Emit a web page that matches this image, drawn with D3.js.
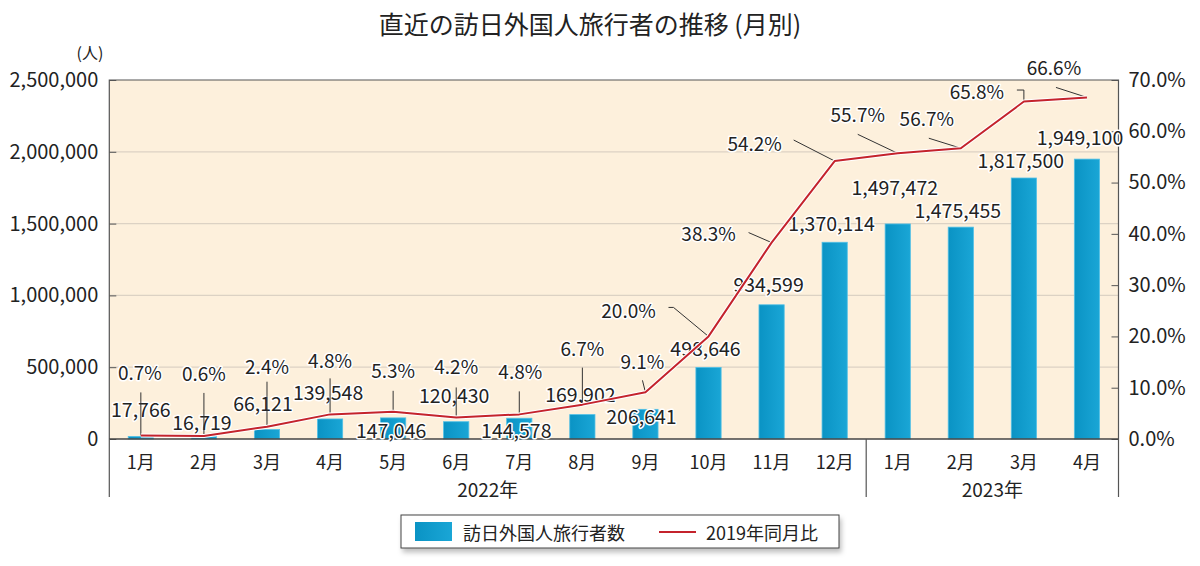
<!DOCTYPE html>
<html>
<head>
<meta charset="utf-8">
<script src="https://cdn.jsdelivr.net/npm/d3@7"></script>
<style>
  body { margin: 0; background: #fff; }
  text { font-family: "Noto Sans CJK JP", "Noto Sans", sans-serif; fill: #222; }
</style>
</head>
<body>
<script>
// data
const months = ['1月', '2月', '3月', '4月', '5月', '6月', '7月', '8月', '9月', '10月', '11月', '12月', '1月', '2月', '3月', '4月'];
const years = [
  { label: '2022年', from: 0, to: 11 },
  { label: '2023年', from: 12, to: 15 },
];
const visitors = [17766, 16719, 66121, 139548, 147046, 120430, 144578, 169902, 206641,
  498646, 934599, 1370114, 1497472, 1475455, 1817500, 1949100];
const ratio2019 = [0.7, 0.6, 2.4, 4.8, 5.3, 4.2, 4.8, 6.7, 9.1, 20.0, 38.3, 54.2, 55.7, 56.7, 65.8, 66.6];
const leftTicks = [0, 500000, 1000000, 1500000, 2000000, 2500000];
const rightTicks = [0, 10, 20, 30, 40, 50, 60, 70];

// label placement (px offsets from bar top / line point)
const valueDx = [0, -2, -4, -2, -2, -2, -3, -2, -4, -3, -3, -3, -3, -3, -3, -7];
const valueDy = [-28, -15, -27, -27, 12, -27, 11, -21, 6, -20, -21, -20, -37, -18, -19, -23];
const pctDx = [-1, 0, 0, 0, 0, 0, 1, 0, -3, -80, -63, -80, -40, -34, -47, -33];
const pctDy = [-64, -63, -61, -55, -42, -52, -44, -57, -32, -27, -10, -19, -40, -31, -11, -31];
const pctLeader = [
  [[0, -43]], [[0, -43]], [[0, -45]], [[0, -36]], [[0, -21]], [[0, -30]], [[0, -23]], [[0, -37]],
  [[-3, -12]], [[-40, -29], [-35, -29]], [[-23, -10]], [[-41, -21]], [[-40, -19]], [[-32, -10]],
  [[-7, -11.5], [0, -11.5]], [[-31, -10]],
];

const width = 1200, height = 566;
const margin = { top: 80, right: 81.5, bottom: 127, left: 109.3 };
const innerW = width - margin.left - margin.right;
const innerH = height - margin.top - margin.bottom;

const svg = d3.select('body')
  .append('svg')
  .attr('width', width)
  .attr('height', height);

const defs = svg.append('defs');
const grad = defs.append('linearGradient').attr('id', 'barGrad');
grad.append('stop').attr('offset', '0%').attr('stop-color', '#0a93c4');
grad.append('stop').attr('offset', '100%').attr('stop-color', '#1aa6d6');
defs.append('filter').attr('id', 'shadow')
  .attr('x', '-5%').attr('y', '-20%').attr('width', '110%').attr('height', '160%')
  .append('feDropShadow')
  .attr('dx', 2).attr('dy', 4).attr('stdDeviation', 2.5)
  .attr('flood-color', '#000').attr('flood-opacity', 0.25);

svg.append('text')
  .attr('x', 590)
  .attr('y', 23)
  .attr('text-anchor', 'middle')
  .attr('dominant-baseline', 'central')
  .style('font-size', '25px')
  .text('直近の訪日外国人旅行者の推移 (月別)');

const g = svg.append('g')
  .attr('transform', `translate(${margin.left}, ${margin.top})`);

const x = d3.scaleBand()
  .domain(d3.range(months.length))
  .range([0, innerW])
  .paddingInner(0.6)
  .paddingOuter(0.3);
const cx = i => x(i) + x.bandwidth() / 2;

const yL = d3.scaleLinear().domain([0, 2500000]).range([innerH, 0]);
const yR = d3.scaleLinear().domain([0, 70]).range([innerH, 0]);

g.append('rect')
  .attr('width', innerW)
  .attr('height', innerH)
  .attr('fill', '#fdf0dc');

// grid
g.append('g')
  .selectAll('line')
  .data(leftTicks.slice(1, -1))
  .join('line')
  .attr('x1', 0)
  .attr('x2', innerW)
  .attr('y1', d => yL(d))
  .attr('y2', d => yL(d))
  .attr('stroke', '#dcd2c4')
  .attr('stroke-width', 1.2);

// axes
const leftAxis = g.append('g')
  .call(d3.axisLeft(yL).tickValues(leftTicks).tickFormat(d3.format(',')).tickSize(-7).tickPadding(11));
const rightAxis = g.append('g')
  .attr('transform', `translate(${innerW}, 0)`)
  .call(d3.axisRight(yR).tickValues(rightTicks).tickFormat(d => d.toFixed(1) + '%').tickSize(-7).tickPadding(10));
[leftAxis, rightAxis].forEach(a => {
  a.select('.domain').remove();
  a.selectAll('.tick line').attr('stroke', '#555');
  a.selectAll('.tick text')
    .attr('fill', '#222')
    .style('font-size', '20px')
    .style('font-family', '"Noto Sans CJK JP", "Noto Sans", sans-serif');
});

svg.append('text')
  .attr('x', 90)
  .attr('y', 52)
  .attr('text-anchor', 'middle')
  .attr('dominant-baseline', 'central')
  .style('font-size', '16px')
  .text('(人)');

// bars
g.append('g')
  .selectAll('rect')
  .data(visitors)
  .join('rect')
  .attr('x', (d, i) => x(i))
  .attr('y', d => yL(d))
  .attr('width', x.bandwidth())
  .attr('height', d => innerH - yL(d))
  .attr('fill', 'url(#barGrad)')
  .attr('stroke', '#52c0e6')
  .attr('stroke-width', 0.8);

// frame
g.append('path')
  .attr('d', `M0,${innerH}V0H${innerW}V${innerH}`)
  .attr('fill', 'none')
  .attr('stroke', '#555')
  .attr('stroke-width', 1.2);
g.append('line')
  .attr('x1', 0).attr('x2', innerW)
  .attr('y1', innerH).attr('y2', innerH)
  .attr('stroke', '#444')
  .attr('stroke-width', 1.5);

// month and year labels below the axis
g.append('g')
  .selectAll('text')
  .data(months)
  .join('text')
  .attr('x', (d, i) => cx(i))
  .attr('y', innerH + 22)
  .attr('text-anchor', 'middle')
  .attr('dominant-baseline', 'central')
  .style('font-size', '18px')
  .text(d => d);

const sepX = [0, x.step() * years[1].from, innerW];
g.append('g')
  .selectAll('line')
  .data(sepX)
  .join('line')
  .attr('x1', d => d).attr('x2', d => d)
  .attr('y1', innerH).attr('y2', innerH + 58)
  .attr('stroke', '#555')
  .attr('stroke-width', 1.2);

g.append('g')
  .selectAll('text')
  .data(years)
  .join('text')
  .attr('x', d => (cx(d.from) + cx(d.to)) / 2)
  .attr('y', innerH + 49)
  .attr('text-anchor', 'middle')
  .attr('dominant-baseline', 'central')
  .style('font-size', '19px')
  .text(d => d.label);

// value labels
g.append('g')
  .selectAll('text')
  .data(visitors)
  .join('text')
  .attr('x', (d, i) => cx(i) + valueDx[i])
  .attr('y', (d, i) => yL(d) + valueDy[i])
  .attr('text-anchor', 'middle')
  .attr('dominant-baseline', 'central')
  .attr('stroke', '#fff')
  .attr('stroke-width', 3)
  .attr('stroke-linejoin', 'round')
  .attr('paint-order', 'stroke')
  .style('font-size', '19.5px')
  .text(d => d3.format(',')(d));

// leader lines for the percentages
g.append('g')
  .selectAll('path')
  .data(ratio2019)
  .join('path')
  .attr('d', (d, i) => {
    const px = cx(i), py = yR(d);
    const pts = pctLeader[i].map(([dx, dy]) => [px + dx, py + dy]);
    pts.push([px, py]);
    return d3.line()(pts);
  })
  .attr('fill', 'none')
  .attr('stroke', '#333')
  .attr('stroke-width', 1);

// ratio line
const line = d3.line()
  .x((d, i) => cx(i))
  .y(d => yR(d));

g.append('path')
  .datum(ratio2019)
  .attr('fill', 'none')
  .attr('stroke', '#fff')
  .attr('stroke-width', 4)
  .attr('stroke-linejoin', 'round')
  .attr('d', line);
g.append('path')
  .datum(ratio2019)
  .attr('fill', 'none')
  .attr('stroke', '#c4232c')
  .attr('stroke-width', 2)
  .attr('stroke-linejoin', 'round')
  .attr('d', line);

// percentage labels
g.append('g')
  .selectAll('text')
  .data(ratio2019)
  .join('text')
  .attr('x', (d, i) => cx(i) + pctDx[i])
  .attr('y', (d, i) => yR(d) + pctDy[i])
  .attr('text-anchor', 'middle')
  .attr('dominant-baseline', 'central')
  .attr('stroke', '#fff')
  .attr('stroke-width', 3)
  .attr('stroke-linejoin', 'round')
  .attr('paint-order', 'stroke')
  .style('font-size', '19px')
  .text(d => d.toFixed(1) + '%');

// legend
const legend = svg.append('g').attr('transform', 'translate(401, 515)');
legend.append('rect')
  .attr('width', 438)
  .attr('height', 33)
  .attr('fill', '#fff')
  .attr('stroke', '#444')
  .attr('stroke-width', 1)
  .attr('filter', 'url(#shadow)');
legend.append('rect')
  .attr('x', 14).attr('y', 7)
  .attr('width', 37).attr('height', 19)
  .attr('fill', 'url(#barGrad)');
legend.append('text')
  .attr('x', 62).attr('y', 17)
  .attr('dominant-baseline', 'central')
  .style('font-size', '18px')
  .text('訪日外国人旅行者数');
legend.append('line')
  .attr('x1', 258).attr('x2', 295)
  .attr('y1', 17).attr('y2', 17)
  .attr('stroke', '#c4232c')
  .attr('stroke-width', 2);
legend.append('text')
  .attr('x', 305).attr('y', 17)
  .attr('dominant-baseline', 'central')
  .style('font-size', '18px')
  .text('2019年同月比');
</script>
</body>
</html>
